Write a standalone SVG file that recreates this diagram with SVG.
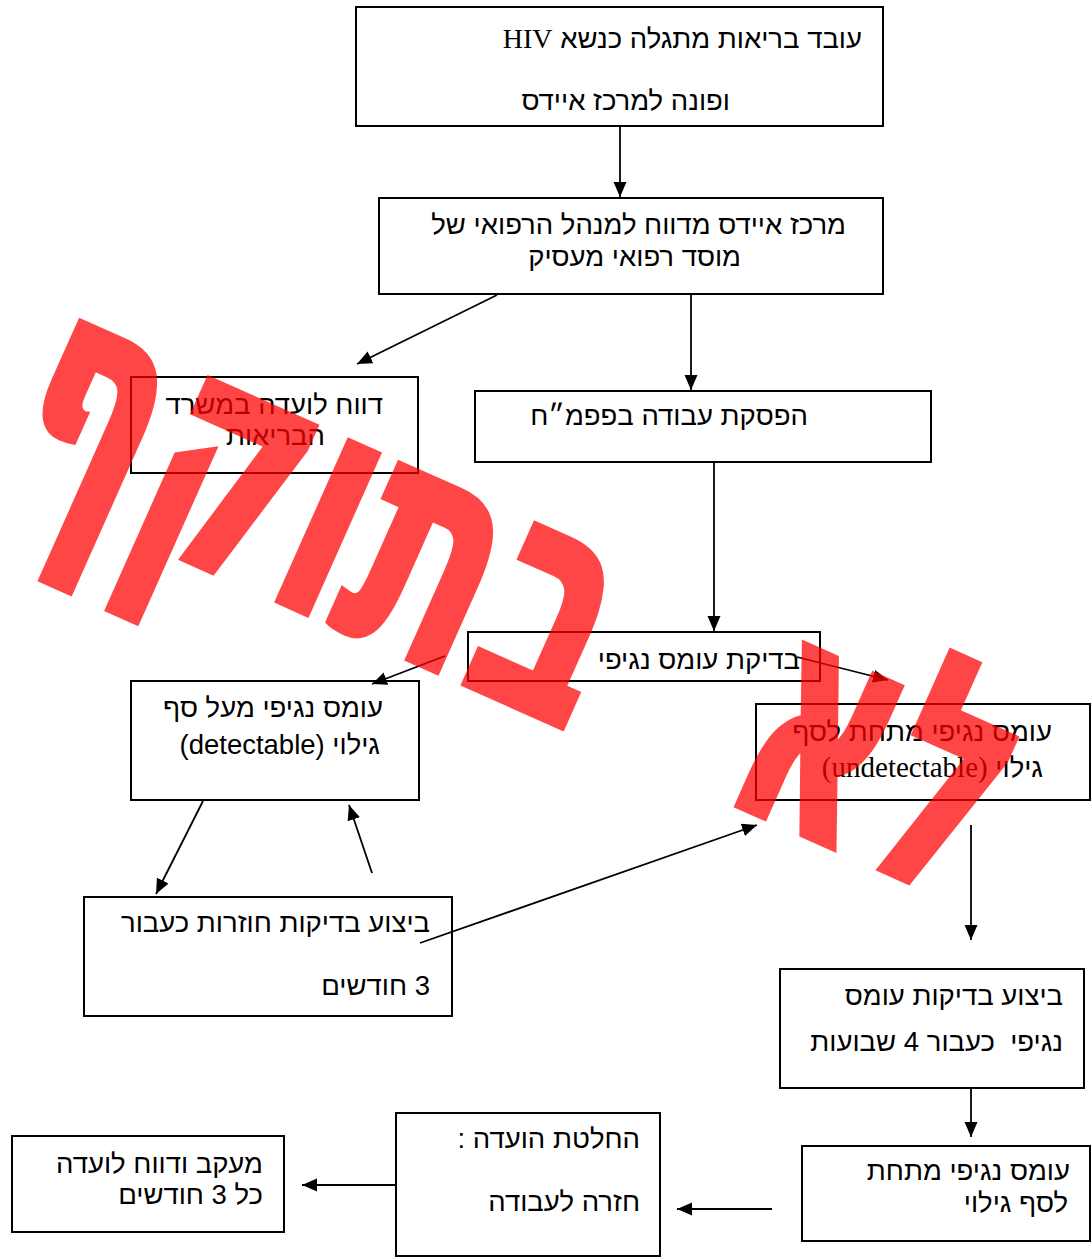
<svg xmlns="http://www.w3.org/2000/svg" width="1091" height="1257" viewBox="0 0 1091 1257">
<defs>
<style>
.box{fill:#fff;stroke:#000;stroke-width:2}
.t{font-family:"Liberation Sans","DejaVu Sans",sans-serif;font-size:27.5px;fill:#000;direction:rtl;text-anchor:start}
.serif{font-family:"Liberation Serif",serif}
.c{stroke:#000;stroke-width:1.8;fill:none;marker-end:url(#ah)}
.wm{font-family:"DejaVu Sans","Liberation Sans",sans-serif;font-weight:bold;font-size:320px;fill:#ff0000;stroke:#ff0000;stroke-width:6;stroke-linejoin:miter;direction:rtl;text-anchor:middle}
</style>
<marker id="ah" markerUnits="userSpaceOnUse" markerWidth="16" markerHeight="14" refX="15" refY="6.5" orient="auto">
<path d="M0,0 L15,6.5 L0,13 z" fill="#000"/>
</marker>
</defs>
<rect width="1091" height="1257" fill="#fff"/>
<g id="nodeA"><rect class="box" x="356" y="7" width="527" height="119"/>
<text class="t" x="862" y="48">עובד בריאות מתגלה כנשא <tspan class="serif" font-size="28">HIV</tspan></text>
<text class="t" x="730" y="110">ופונה למרכז איידס</text></g>
<g id="nodeB"><rect class="box" x="379" y="198" width="504" height="96"/>
<text class="t" x="846" y="234">מרכז איידס מדווח למנהל הרפואי של</text>
<text class="t" x="741" y="266">מוסד רפואי מעסיק</text></g>
<g id="nodeC"><rect class="box" x="131" y="377" width="287" height="96"/>
<text class="t" x="383" y="414">דווח לועדה במשרד</text>
<text class="t" x="325" y="445">הבריאות</text></g>
<g id="nodeD"><rect class="box" x="475" y="391" width="456" height="71"/>
<text class="t" x="808" y="425">הפסקת עבודה בפפמ״ח</text></g>
<g id="nodeE"><rect class="box" x="468" y="632" width="352" height="49"/>
<text class="t" x="800" y="669">בדיקת עומס נגיפי</text></g>
<g id="nodeF"><rect class="box" x="131" y="681" width="288" height="119"/>
<text class="t" x="383" y="717">עומס נגיפי מעל סף</text>
<text class="t" x="380" y="754">גילוי (detectable)</text></g>
<g id="nodeG"><rect class="box" x="756" y="704" width="334" height="96"/>
<text class="t" x="1052" y="741">עומס נגיפי מתחת לסף</text>
<text class="t" x="1043" y="777">גילוי <tspan class="serif" font-size="29">(undetectable)</tspan></text></g>
<g id="nodeH"><rect class="box" x="84" y="897" width="368" height="119"/>
<text class="t" x="430" y="932">ביצוע בדיקות חוזרות כעבור</text>
<text class="t" x="430" y="995">3 חודשים</text></g>
<g id="nodeI"><rect class="box" x="780" y="969" width="304" height="119"/>
<text class="t" x="1063" y="1005">ביצוע בדיקות עומס</text>
<text class="t" x="1063" y="1051" xml:space="preserve">נגיפי  כעבור 4 שבועות</text></g>
<g id="nodeJ"><rect class="box" x="802" y="1146" width="288" height="95"/>
<text class="t" x="1070" y="1180">עומס נגיפי מתחת</text>
<text class="t" x="1068" y="1212">לסף גילוי</text></g>
<g id="nodeK"><rect class="box" x="396" y="1113" width="264" height="143"/>
<text class="t" x="640" y="1148">החלטת הועדה :</text>
<text class="t" x="640" y="1211">חזרה לעבודה</text></g>
<g id="nodeL"><rect class="box" x="12" y="1136" width="272" height="96"/>
<text class="t" x="263" y="1173">מעקב ודווח לועדה</text>
<text class="t" x="263" y="1204">כל 3 חודשים</text></g>
<g id="connectors">
<line class="c" x1="620" y1="127" x2="620" y2="197"/>
<line class="c" x1="497" y1="295" x2="357" y2="364"/>
<line class="c" x1="691" y1="295" x2="691" y2="390"/>
<line class="c" x1="714" y1="463" x2="714" y2="631"/>
<line class="c" x1="445" y1="656" x2="372" y2="684"/>
<line class="c" x1="797" y1="657" x2="888" y2="680"/>
<line class="c" x1="203" y1="801" x2="156" y2="894"/>
<line class="c" x1="372" y1="873" x2="349" y2="805"/>
<line class="c" x1="420" y1="943" x2="757" y2="825"/>
<line class="c" x1="971" y1="825" x2="971" y2="940"/>
<line class="c" x1="971" y1="1089" x2="971" y2="1137"/>
<line class="c" x1="772" y1="1209" x2="677" y2="1209"/>
<line class="c" x1="396" y1="1185" x2="302" y2="1185"/>
</g>
<g id="watermark" opacity="0.72" transform="translate(326,502) rotate(24)">
<text class="wm" x="0" y="110" textLength="635" lengthAdjust="spacingAndGlyphs">בתוקף</text>
<text class="wm" x="610" y="110" textLength="265" lengthAdjust="spacingAndGlyphs">לא</text>
</g>
</svg>
